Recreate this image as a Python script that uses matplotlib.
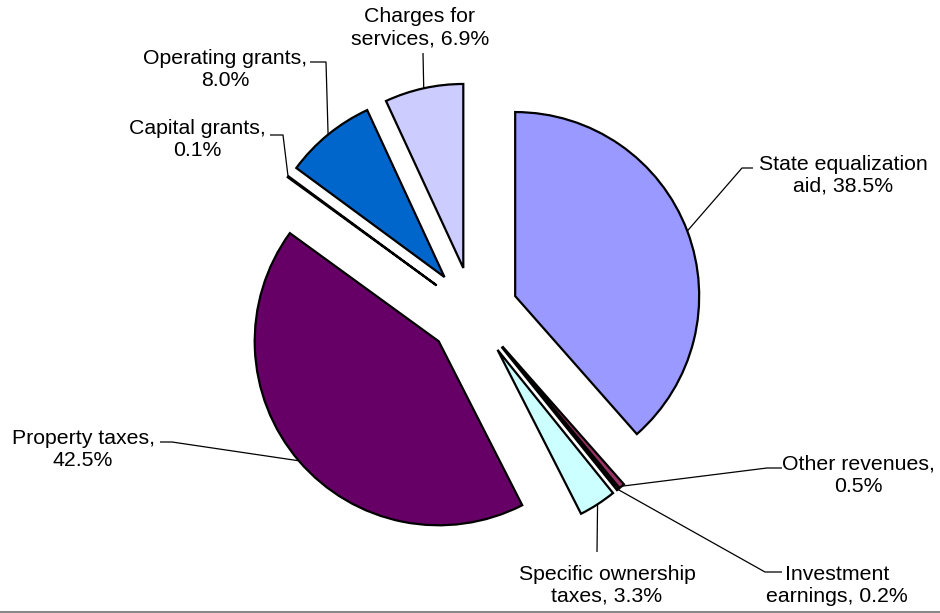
import matplotlib
matplotlib.use("Agg")
import matplotlib.pyplot as plt
from matplotlib.lines import Line2D
import numpy as np

plt.rcParams['font.family'] = ['Liberation Sans', 'DejaVu Sans']

# ---- data ----
categories = ["State equalization aid", "Other revenues", "Investment earnings",
              "Specific ownership taxes", "Property taxes", "Capital grants",
              "Operating grants", "Charges for services"]
values = [38.5, 0.5, 0.2, 3.3, 42.5, 0.1, 8.0, 6.9]
label_lines = [["State equalization", "aid, {v}"],
               ["Other revenues,", "{v}"],
               ["Investment", "earnings, {v}"],
               ["Specific ownership", "taxes, {v}"],
               ["Property taxes,", "{v}"],
               ["Capital grants,", "{v}"],
               ["Operating grants,", "{v}"],
               ["Charges for", "services, {v}"]]
colors = ["#9999FF", "#993366", "#FFFFCC", "#CCFFFF", "#660066", "#FF8080",
          "#0066CC", "#CCCCFF"]

# ---- layout (pixels of a 940x613 canvas) ----
W, H = 940, 613
CX, CY, R = 473, 312, 184
EXPL = 0.245

def p2d(px, py):
    return ((px - CX) / R, (CY - py) / R)

fig = plt.figure(figsize=(W / 100, H / 100), dpi=100)
ax = fig.add_axes([0, 0, 1, 1])
ax.pie(values, colors=colors, startangle=90, counterclock=False,
       explode=[EXPL] * len(values), radius=1, center=(0, 0),
       wedgeprops=dict(edgecolor="black", linewidth=1.6, joinstyle="miter"))
ax.set_xlim(-CX / R, (W - CX) / R)
ax.set_ylim(-(H - CY) / R, CY / R)
ax.set_aspect("equal")
ax.axis("off")

# label centers and leader elbows (pixels)
text_pos = [(843, 175), (858, 475), (837, 585), (607, 585),
            (83, 449), (197, 140), (225, 70), (420, 28)]
leader_pts = [[(753, 168), (742, 168)],
              [(782, 468), (767, 468)],
              [(782, 572), (765, 572)],
              [(597, 552)],
              [(160, 442), (172, 442)],
              [(270, 135), (283, 135)],
              [(310, 62), (326, 62)],
              [(423, 53)]]

total = sum(values)
cum = 0.0
for i, v in enumerate(values):
    mid = (cum + v / 2) / total * 360.0
    cum += v
    a = np.deg2rad(90 - mid)
    tx, ty = (1 + EXPL) * np.cos(a), (1 + EXPL) * np.sin(a)
    pts = [p2d(*p) for p in leader_pts[i]] + [(tx, ty)]
    xs, ys = zip(*pts)
    ax.plot(xs, ys, color="black", lw=0.9, solid_capstyle="butt")
    vs = f"{v:.1f}%"
    txt = "\n".join(s.format(v=vs) for s in label_lines[i])
    x, y = p2d(*text_pos[i])
    ax.text(x, y, txt, ha="center", va="center", fontsize=15.3,
            linespacing=1.2, color="black")

fig.add_artist(Line2D([0, 1], [1.5 / H, 1.5 / H], transform=fig.transFigure,
                      color="#8a8a8a", lw=2.2))

fig.savefig("out.png", dpi=100)
